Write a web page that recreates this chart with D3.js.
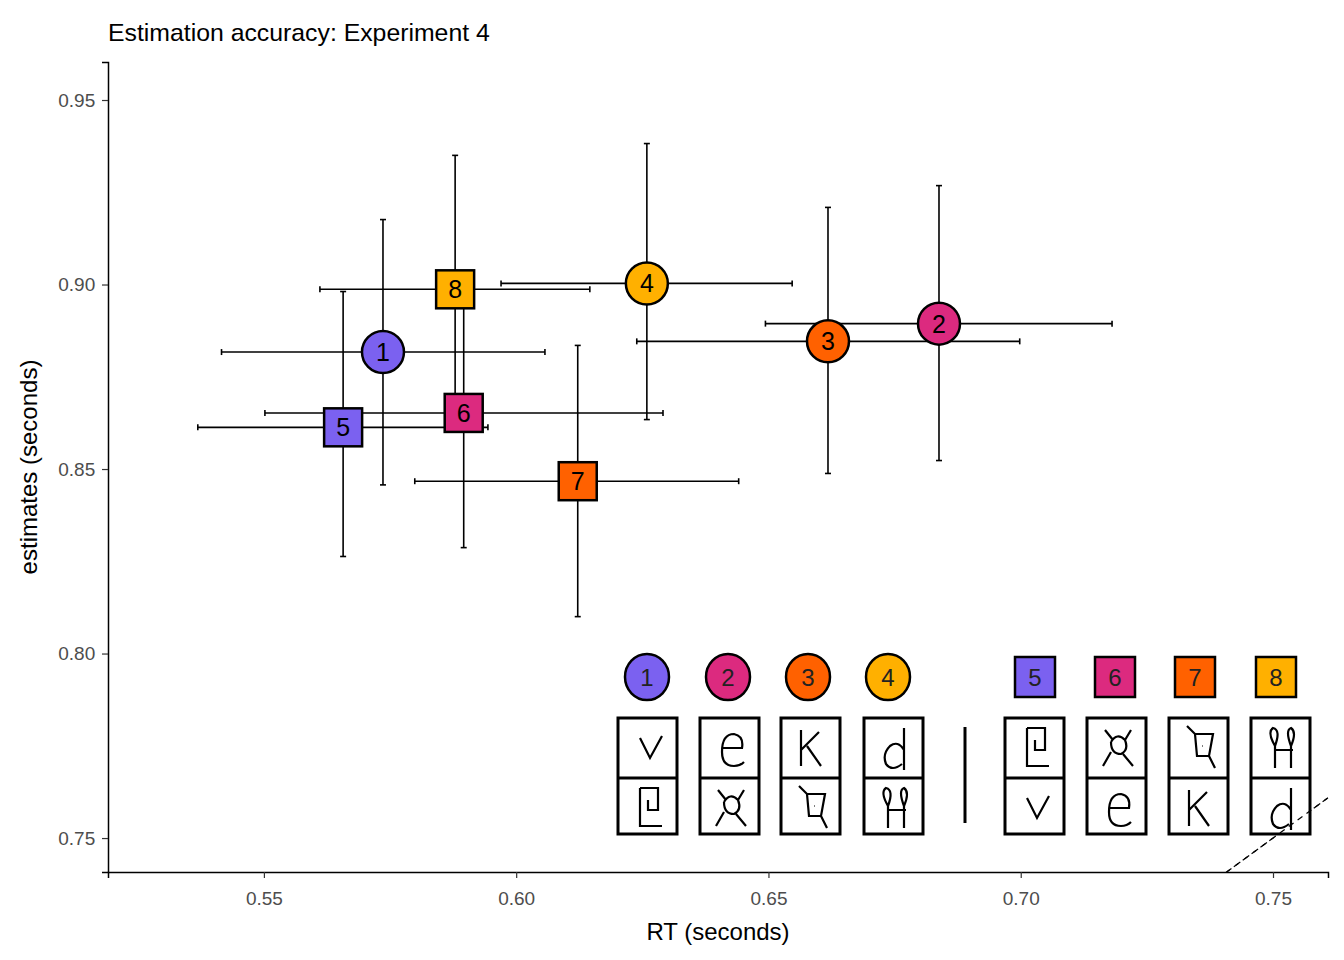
<!DOCTYPE html>
<html><head><meta charset="utf-8">
<script src="https://cdn.jsdelivr.net/npm/d3@7"></script>
<style>body{margin:0;background:#fff}svg{font-family:"Liberation Sans",Arial,sans-serif}</style>
</head><body><svg id="c" width="1344" height="960"></svg>
<script>
const ids=[1,2,3,4,5,6,7,8];
const rt=[0.5736,0.6838,0.6618,0.6259,0.5657,0.5896,0.6122,0.5879];
const rtLo=[0.5416,0.6494,0.6239,0.5970,0.5369,0.5502,0.5799,0.5611];
const rtHi=[0.6057,0.7181,0.6998,0.6547,0.5944,0.6291,0.6441,0.6146];
const est=[0.8817,0.8894,0.8846,0.9003,0.8613,0.8652,0.8467,0.8987];
const estLo=[0.8457,0.8523,0.8488,0.8634,0.8263,0.8287,0.8100,0.8630];
const estHi=[0.9176,0.9268,0.9209,0.9382,0.8981,0.8950,0.8835,0.9350];
const shapes=["circle","circle","circle","circle","square","square","square","square"];
const colors=["#7B61F0","#DC2A7F","#FF6100","#FFB000","#7B61F0","#DC2A7F","#FF6100","#FFB000"];
const xTicks=[0.55,0.60,0.65,0.70,0.75];
const yTicks=[0.75,0.80,0.85,0.90,0.95];

const svg=d3.select("#c");
const L=108,R=1328,T=62,B=872;
const x=d3.scaleLinear().domain([0.5191,0.7609]).range([L,R]);
const y=d3.scaleLinear().domain([0.7408,0.9603]).range([B,T]);

svg.append("text").attr("x",108).attr("y",41).attr("font-size",31*0.8+"px").text("Estimation accuracy: Experiment 4");

const xa=svg.append("g").attr("transform",`translate(0,${B})`).call(d3.axisBottom(x).tickValues(xTicks).tickFormat(d3.format(".2f")).tickSizeOuter(0).tickSize(6));
const ya=svg.append("g").attr("transform",`translate(${L},0)`).call(d3.axisLeft(y).tickValues(yTicks).tickFormat(d3.format(".2f")).tickSizeOuter(0).tickSize(6));
[xa,ya].forEach(a=>{a.select(".domain").attr("stroke","#000").attr("stroke-width",1.5);a.selectAll(".tick line").attr("stroke","#333").attr("stroke-width",1.2);a.selectAll(".tick text").attr("fill","#4d4d4d").attr("font-size","19px").attr("font-family","Liberation Sans, Arial");});
xa.selectAll(".tick text").attr("dy","1.25em");
ya.selectAll(".tick text").attr("dx","-0.2em");
svg.append("text").attr("x",(L+R)/2).attr("y",940).attr("text-anchor","middle").attr("font-size","24px").text("RT (seconds)");
svg.append("text").attr("transform",`translate(37,${(T+B)/2}) rotate(-90)`).attr("text-anchor","middle").attr("font-size","24px").text("estimates (seconds)");

const clip=svg.append("clipPath").attr("id","pc").append("rect").attr("x",L).attr("y",T).attr("width",R-L).attr("height",B-T);
const g=svg.append("g");
// identity line
g.append("line").attr("clip-path","url(#pc)").attr("x1",x(0.70)).attr("y1",y(0.70)).attr("x2",x(0.80)).attr("y2",y(0.80)).attr("stroke","#000").attr("stroke-width",1.2).attr("stroke-dasharray","6,5");

const d=ids.map((id,i)=>({id,i}));
const cap=3;
d.forEach(({i})=>{
  const e=g.append("g").attr("stroke","#000").attr("stroke-width",1.6);
  e.append("line").attr("x1",x(rtLo[i])).attr("x2",x(rtHi[i])).attr("y1",y(est[i])).attr("y2",y(est[i]));
  e.append("line").attr("x1",x(rtLo[i])).attr("x2",x(rtLo[i])).attr("y1",y(est[i])-cap).attr("y2",y(est[i])+cap);
  e.append("line").attr("x1",x(rtHi[i])).attr("x2",x(rtHi[i])).attr("y1",y(est[i])-cap).attr("y2",y(est[i])+cap);
  e.append("line").attr("x1",x(rt[i])).attr("x2",x(rt[i])).attr("y1",y(estLo[i])).attr("y2",y(estHi[i]));
  e.append("line").attr("x1",x(rt[i])-cap).attr("x2",x(rt[i])+cap).attr("y1",y(estLo[i])).attr("y2",y(estLo[i]));
  e.append("line").attr("x1",x(rt[i])-cap).attr("x2",x(rt[i])+cap).attr("y1",y(estHi[i])).attr("y2",y(estHi[i]));
});
d.forEach(({id,i})=>{
  const cx=x(rt[i]),cy=y(est[i]);
  if(shapes[i]==="circle") g.append("circle").attr("cx",cx).attr("cy",cy).attr("r",21).attr("fill",colors[i]).attr("stroke","#000").attr("stroke-width",2.5);
  else g.append("rect").attr("x",cx-19).attr("y",cy-19).attr("width",38).attr("height",38).attr("fill",colors[i]).attr("stroke","#000").attr("stroke-width",2.5);
  g.append("text").attr("x",cx).attr("y",cy+9).attr("text-anchor","middle").attr("font-size","25px").text(id);
});

// inset legend
const ins=svg.append("g");
const circX=[647,728,808,888], sqX=[1035,1115,1195,1276];
circX.forEach((cx,k)=>{ins.append("ellipse").attr("cx",cx).attr("cy",677).attr("rx",22).attr("ry",23).attr("fill",colors[k]).attr("stroke","#000").attr("stroke-width",2.5);
 ins.append("text").attr("x",cx).attr("y",686).attr("text-anchor","middle").attr("font-size","24px").attr("fill","#222").text(ids[k]);});
sqX.forEach((cx,k)=>{ins.append("rect").attr("x",cx-20).attr("y",657).attr("width",40).attr("height",40).attr("fill",colors[k+4]).attr("stroke","#000").attr("stroke-width",2.5);
 ins.append("text").attr("x",cx).attr("y",686).attr("text-anchor","middle").attr("font-size","24px").attr("fill","#222").text(ids[k+4]);});
// glyph paths in a 60x58 cell
const glyph={
 v:"M22,18 L32,38 L44,16",
 e:"M22,28 L42,28 Q44,16 34,14 Q22,14 22,32 Q22,46 34,46 Q40,46 44,42",
 K:"M20,10 L20,46 M20,30 L38,12 M26,26 L40,46",
 d:"M40,8 L40,50 M40,30 Q34,20 26,26 Q18,34 22,44 Q28,52 38,44",
 s:"M22,8 L40,8 L40,30 L30,30 L30,20 M22,8 L22,46 L44,46",
 x:"M18,10 L26,20 M44,10 L38,20 M24,22 Q30,12 38,20 Q42,30 34,34 Q24,34 24,22 M24,32 L16,46 M36,34 L46,46",
 q:"M18,6 L26,14 L44,14 L40,36 L28,36 L26,14 M40,36 L46,48 M33,26 l0.5,0",
 h:"M24,48 L24,26 Q16,12 22,8 Q30,10 24,26 M24,30 L42,30 M40,48 L40,26 Q46,12 40,8 Q34,10 40,26"
};
const topG=["v","e","K","d","s","x","q","h"], botG=["s","x","q","h","v","e","K","d"];
const boxX=[618,700,781,864,1005,1087,1169,1251];
boxX.forEach((bx,k)=>{
 ins.append("rect").attr("x",bx).attr("y",718).attr("width",59).attr("height",116).attr("fill","#fff").attr("stroke","#000").attr("stroke-width",3);
 ins.append("line").attr("x1",bx).attr("x2",bx+59).attr("y1",778).attr("y2",778).attr("stroke","#000").attr("stroke-width",3);
 ins.append("path").attr("d",glyph[topG[k]]).attr("transform",`translate(${bx},${720})`).attr("fill","none").attr("stroke","#000").attr("stroke-width",2.2);
 ins.append("path").attr("d",glyph[botG[k]]).attr("transform",`translate(${bx},${780})`).attr("fill","none").attr("stroke","#000").attr("stroke-width",2.2);
});
ins.append("line").attr("x1",965).attr("x2",965).attr("y1",727).attr("y2",823).attr("stroke","#000").attr("stroke-width",3);
// dashed line over inset
svg.append("line").attr("x1",x(0.7408)).attr("y1",y(0.7408)).attr("x2",x(0.7609)).attr("y2",y(0.7609)).attr("stroke","#000").attr("stroke-width",1.2).attr("stroke-dasharray","6,5");
</script></body></html>
